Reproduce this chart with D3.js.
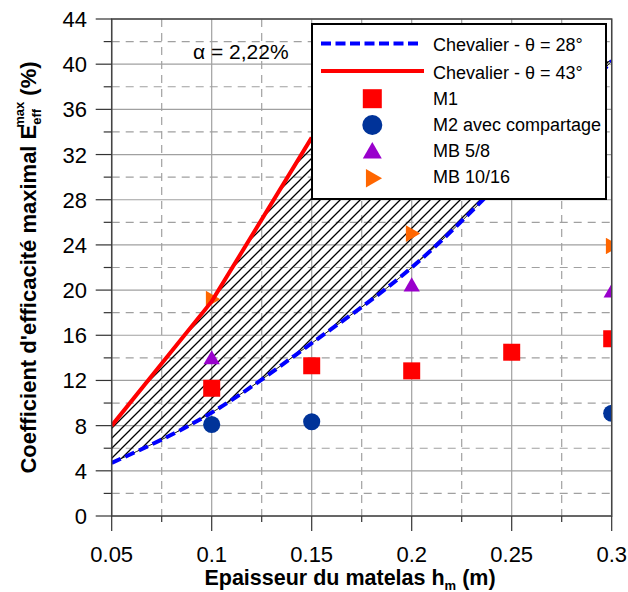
<!DOCTYPE html>
<html>
<head>
<meta charset="utf-8">
<script src="https://cdn.jsdelivr.net/npm/d3@7"></script>
<style>
  html, body { margin: 0; padding: 0; background: #fff; }
  svg { display: block; font-family: "Liberation Sans", Arial, sans-serif; }
</style>
</head>
<body>
<svg id="chart" width="628" height="592"></svg>
<script>
// ---- data ----
const chevHs = [0.05, 0.1, 0.15, 0.2, 0.25, 0.3];
const chev28 = [4.7, 9.15, 15.3, 22.0, 30.6, 40.3];
const chev43Hs = [0.05, 0.1, 0.15];
const chev43 = [8.0, 19.0, 33.5];

const m1Hs = [0.1, 0.15, 0.2, 0.25, 0.3];
const m1 = [11.3, 13.3, 12.85, 14.5, 15.7];
const m2Hs = [0.1, 0.15, 0.3];
const m2 = [8.1, 8.35, 9.1];
const mb58Hs = [0.1, 0.2, 0.3];
const mb58 = [13.85, 20.3, 19.75];
const mb1016Hs = [0.1, 0.2, 0.3];
const mb1016 = [19.2, 25.0, 23.9];

const xTicks = [0.05, 0.1, 0.15, 0.2, 0.25, 0.3];
const xMinor = [0.075, 0.125, 0.175, 0.225, 0.275];
const yTicks = [0, 4, 8, 12, 16, 20, 24, 28, 32, 36, 40, 44];
const yMinor = [2, 6, 10, 14, 18, 22, 26, 30, 34, 38, 42];

const legendLabels = ["Chevalier - θ = 28°", "Chevalier - θ = 43°", "M1", "M2 avec compartage", "MB 5/8", "MB 10/16"];
const annotation = "α = 2,22%";

// ---- layout ----
const L = 111.7, R = 611.7, T = 19, B = 516;
const x = d3.scaleLinear().domain([0.05, 0.3]).range([L, R]);
const y = d3.scaleLinear().domain([0, 44]).range([B, T]);

const svg = d3.select("#chart");
const defs = svg.append("defs");
defs.append("clipPath").attr("id", "plotclip")
  .append("rect").attr("x", L).attr("y", T).attr("width", R - L).attr("height", B - T);
const P = 10;
const pat = defs.append("pattern").attr("id", "hatch")
  .attr("patternUnits", "userSpaceOnUse").attr("width", P).attr("height", P);
pat.append("path").attr("d", `M-1,${P + 1} L${P + 1},-1 M-2,2 L2,-2 M${P - 2},${P + 2} L${P + 2},${P - 2}`)
  .attr("stroke", "#000").attr("stroke-width", 1.3);

const GRID = "#a0a0a0";
// gridlines
const grid = svg.append("g");
grid.selectAll(".gy").data(yTicks).enter().append("line")
  .attr("x1", L).attr("x2", R).attr("y1", d => y(d)).attr("y2", d => y(d))
  .attr("stroke", GRID).attr("stroke-width", 1.2);
grid.selectAll(".gym").data(yMinor).enter().append("line")
  .attr("x1", L).attr("x2", R).attr("y1", d => y(d)).attr("y2", d => y(d))
  .attr("stroke", GRID).attr("stroke-width", 1.2).attr("stroke-dasharray", "8,6");
grid.selectAll(".gx").data(xTicks).enter().append("line")
  .attr("y1", T).attr("y2", B).attr("x1", d => x(d)).attr("x2", d => x(d))
  .attr("stroke", GRID).attr("stroke-width", 1.2);
grid.selectAll(".gxm").data(xMinor).enter().append("line")
  .attr("y1", T).attr("y2", B).attr("x1", d => x(d)).attr("x2", d => x(d))
  .attr("stroke", GRID).attr("stroke-width", 1.2).attr("stroke-dasharray", "8,6");

const plot = svg.append("g").attr("clip-path", "url(#plotclip)");

// hatched area between curves
const redPts = chev43Hs.map((h, i) => [h, chev43[i]]);
const bluePts = chevHs.map((h, i) => [h, chev28[i]]);
const redGen = d3.line().x(d => x(d[0])).y(d => y(d[1])).curve(d3.curveLinear);
const blueGen = d3.line().x(d => x(d[0])).y(d => y(d[1])).curve(d3.curveMonotoneX);
const redPath = redGen(redPts);
const blueRev = blueGen(bluePts.slice().reverse());
plot.append("path")
  .attr("d", redPath + "L" + blueRev.slice(1) + "Z")
  .attr("fill", "url(#hatch)").attr("stroke", "#000").attr("stroke-width", 0.9);

// markers
function sym(type, size) { return d3.symbol().type(type).size(size)(); }
const markers = plot.append("g");
markers.selectAll(".m1").data(m1Hs).enter().append("path")
  .attr("d", sym(d3.symbolSquare, 289))
  .attr("transform", (d, i) => `translate(${x(d)},${y(m1[i])})`).attr("fill", "#ff0000");
markers.selectAll(".m2").data(m2Hs).enter().append("path")
  .attr("d", sym(d3.symbolCircle, 230))
  .attr("transform", (d, i) => `translate(${x(d)},${y(m2[i])})`).attr("fill", "#003399");
markers.selectAll(".mb58").data(mb58Hs).enter().append("path")
  .attr("d", sym(d3.symbolTriangle, 115))
  .attr("transform", (d, i) => `translate(${x(d)},${y(mb58[i])})`).attr("fill", "#9900cc");
markers.selectAll(".mb1016").data(mb1016Hs).enter().append("path")
  .attr("d", sym(d3.symbolTriangle, 120))
  .attr("transform", (d, i) => `translate(${x(d) - 1},${y(mb1016[i])}) rotate(90)`).attr("fill", "#ff6600");

// curves
plot.append("path").attr("d", blueGen(bluePts))
  .attr("fill", "none").attr("stroke", "#0000ff").attr("stroke-width", 4)
  .attr("stroke-dasharray", "10,5");
plot.append("path").attr("d", redPath)
  .attr("fill", "none").attr("stroke", "#ff0000").attr("stroke-width", 4);

// frame
svg.append("rect").attr("x", L).attr("y", T).attr("width", R - L).attr("height", B - T)
  .attr("fill", "none").attr("stroke", "#444").attr("stroke-width", 1.5);

// axes
const AX = "#333";
const ax = svg.append("g");
ax.selectAll(".ty").data(yTicks).enter().append("line")
  .attr("x1", L - 16).attr("x2", L).attr("y1", d => y(d)).attr("y2", d => y(d))
  .attr("stroke", AX).attr("stroke-width", 1.2);
ax.selectAll(".tym").data(yMinor).enter().append("line")
  .attr("x1", L - 8).attr("x2", L).attr("y1", d => y(d)).attr("y2", d => y(d))
  .attr("stroke", AX).attr("stroke-width", 1.2);
ax.selectAll(".tx").data(xTicks).enter().append("line")
  .attr("y1", B).attr("y2", B + 15).attr("x1", d => x(d)).attr("x2", d => x(d))
  .attr("stroke", AX).attr("stroke-width", 1.2);
ax.selectAll(".txm").data(xMinor).enter().append("line")
  .attr("y1", B).attr("y2", B + 6).attr("x1", d => x(d)).attr("x2", d => x(d))
  .attr("stroke", AX).attr("stroke-width", 1.2);
ax.selectAll(".ly").data(yTicks).enter().append("text")
  .attr("x", 87).attr("y", d => y(d) + 8).attr("text-anchor", "end")
  .attr("font-size", 22).attr("fill", "#000").text(d => d);
ax.selectAll(".lx").data(xTicks).enter().append("text")
  .attr("x", d => x(d)).attr("y", 561.5).attr("text-anchor", "middle")
  .attr("font-size", 22).attr("fill", "#000").text(d => d);

// axis titles
const xt = svg.append("text").attr("x", 350).attr("y", 585).attr("text-anchor", "middle")
  .attr("font-size", 21.5).attr("font-weight", "bold");
xt.append("tspan").text("Epaisseur du matelas h");
xt.append("tspan").attr("font-size", 13).attr("dy", 5).text("m");
xt.append("tspan").attr("dy", -5).text(" (m)");

const yt = svg.append("text").attr("transform", `translate(36,${(T + B) / 2}) rotate(-90)`)
  .attr("text-anchor", "middle").attr("font-size", 22).attr("font-weight", "bold");
yt.append("tspan").text("Coefficient d'efficacité maximal E");
yt.append("tspan").attr("font-size", 13).attr("dy", 5).text("eff");
yt.append("tspan").attr("font-size", 13).attr("dx", -19).attr("dy", -17).text("max");
yt.append("tspan").attr("dy", 12).text(" (%)");

// annotation
svg.append("text").attr("x", 193).attr("y", 59).attr("font-size", 21).text(annotation);

// legend
const lg = svg.append("g");
lg.append("rect").attr("x", 312).attr("y", 24).attr("width", 294).attr("height", 175)
  .attr("fill", "#fff").attr("stroke", "#000").attr("stroke-width", 2);
const rowBase = [51, 79, 105, 131, 157, 183];
lg.selectAll(".lt").data(legendLabels).enter().append("text")
  .attr("x", 433).attr("y", (d, i) => rowBase[i]).attr("font-size", 18).text(d => d);
lg.append("line").attr("x1", 321).attr("x2", 418).attr("y1", 43.5).attr("y2", 43.5)
  .attr("stroke", "#0000ff").attr("stroke-width", 4).attr("stroke-dasharray", "10,4.5");
lg.append("line").attr("x1", 321).attr("x2", 424).attr("y1", 71).attr("y2", 71)
  .attr("stroke", "#ff0000").attr("stroke-width", 4);
const mx = 372.3;
lg.append("path").attr("d", sym(d3.symbolSquare, 361)).attr("transform", `translate(${mx},98.7)`).attr("fill", "#ff0000");
lg.append("path").attr("d", sym(d3.symbolCircle, 314)).attr("transform", `translate(${mx},125)`).attr("fill", "#003399");
lg.append("path").attr("d", sym(d3.symbolTriangle, 156)).attr("transform", `translate(${mx},153)`).attr("fill", "#9900cc");
lg.append("path").attr("d", sym(d3.symbolTriangle, 150)).attr("transform", `translate(${mx - 1},178.3) rotate(90)`).attr("fill", "#ff6600");
</script>
</body>
</html>
